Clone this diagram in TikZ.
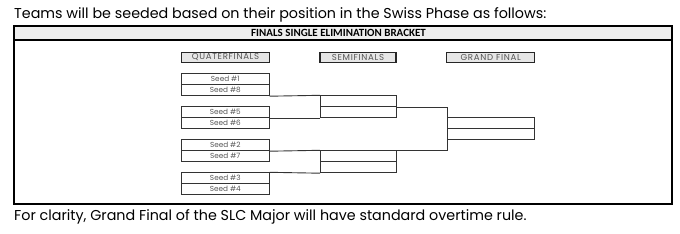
\documentclass[tikz,border=0pt]{standalone}
\usepackage{fontspec}
\setmainfont{Poppins}
\newfontfamily\hdrfont{Carlito}
\newfontfamily\labfont[LetterSpace=8]{Poppins}
\definecolor{lineg}{HTML}{333333}
\definecolor{textg}{HTML}{555555}
\definecolor{bandg}{HTML}{EEEEEE}
\definecolor{labg}{HTML}{E6E6E6}
\tikzset{
  seedbox/.style={draw=lineg, line width=0.9pt, minimum width=87.7pt, minimum height=11pt, inner sep=0pt, anchor=north west, font=\fontsize{7.3}{8}\selectfont, text=textg},
  semibox/.style={draw=lineg, line width=0.9pt, minimum width=75.5pt, minimum height=11pt, inner sep=0pt, anchor=north west},
  finbox/.style={draw=lineg, line width=0.9pt, minimum width=87.3pt, minimum height=11pt, inner sep=0pt, anchor=north west},
  labbox/.style={draw=black!85, fill=labg, line width=1.4pt, minimum height=10pt, inner sep=0pt, anchor=north west, font=\labfont\fontsize{8.6}{9}\selectfont, text=textg},
  conn/.style={draw=lineg, line width=0.9pt},
  bodytext/.style={anchor=base west, inner sep=0pt, font=\fontsize{14.3}{16}\selectfont, text=black}
}
\begin{document}
\begin{tikzpicture}[x=1pt,y=-1pt]
\useasboundingbox[fill=white] (0,0) rectangle (680,233);
% texts
\node[bodytext] (top) at (14,18.3) {Teams will be seeded based on their position in the Swiss Phase as follows:};
\node[bodytext] (bot) at (14,220.7) {For clarity, Grand Final of the SLC Major will have standard overtime rule.};
% frame
\fill[bandg] (14,25.7) rectangle (672,40);
\draw[line width=1.4pt] (14,40) -- (672,40);
\draw[line width=1.6pt] (14,25.7) rectangle (672,204);
\node[font=\hdrfont\bfseries\fontsize{11}{12}\selectfont, inner sep=0pt, anchor=base] (hdr) at (338.5,36.5) {FINALS SINGLE ELIMINATION BRACKET};
% labels
\node[labbox, minimum width=87.7pt] (lqf) at (181,51.7) {QUATERFINALS};
\node[labbox, minimum width=76pt] (lsf) at (319.3,51.7) {SEMIFINALS};
\node[labbox, minimum width=88pt] (lgf) at (446,51.7) {GRAND FINAL};
% seeds
\node[seedbox] (s1) at (181,73.3) {Seed \#1};
\node[seedbox] (s8) at (181,84.3) {Seed \#8};
\node[seedbox] (s5) at (181,106.3) {Seed \#5};
\node[seedbox] (s6) at (181,117.3) {Seed \#6};
\node[seedbox] (s2) at (181,139.3) {Seed \#2};
\node[seedbox] (s7) at (181,150.3) {Seed \#7};
\node[seedbox] (s3) at (181,172.3) {Seed \#3};
\node[seedbox] (s4) at (181,183.3) {Seed \#4};
% semis
\node[semibox] (sfa) at (320,95.3) {};
\node[semibox] (sfb) at (320,106.3) {};
\node[semibox] (sfc) at (320,150.3) {};
\node[semibox] (sfd) at (320,161.3) {};
% final
\node[finbox] (gfa) at (447,117.3) {};
\node[finbox] (gfb) at (447,128.3) {};
% connectors
\draw[conn] (s8.south east) -- (sfa.north west);
\draw[conn] (s5.south east) -- (sfb.south west);
\draw[conn] (s2.south east) -- (sfc.north west);
\draw[conn] (s3.north east) -- (sfd.south west);
\draw[conn] (sfa.south east) -- (sfa.south east -| gfa.west) -- (sfc.north east -| gfa.west) -- (sfc.north east);
\end{tikzpicture}
\end{document}
